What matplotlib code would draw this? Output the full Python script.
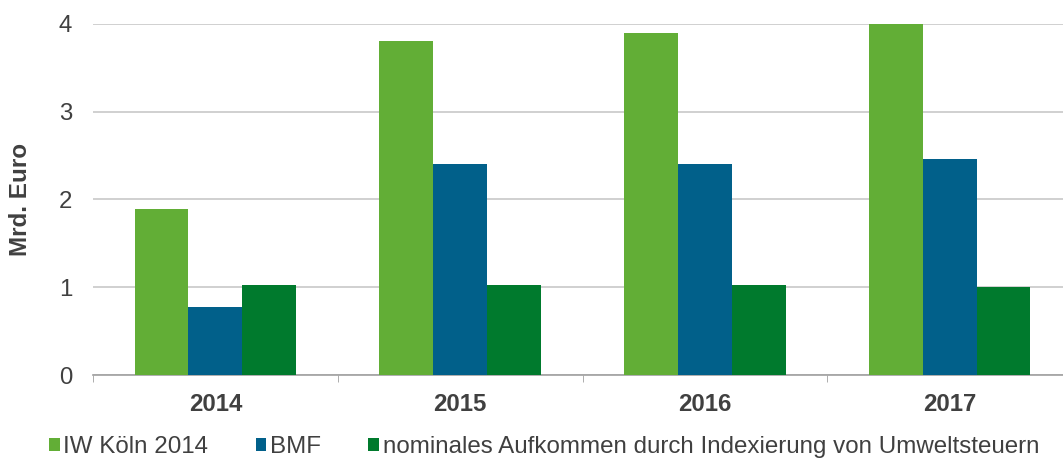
import matplotlib
matplotlib.use("Agg")
import matplotlib.pyplot as plt
import numpy as np
from matplotlib.patches import Patch

plt.rcParams['font.family'] = ['Liberation Sans', 'DejaVu Sans']

years = ["2014", "2015", "2016", "2017"]
series_names = ["IW Köln 2014", "BMF", "nominales Aufkommen durch Indexierung von Umweltsteuern"]
iw_koeln = [1.89, 3.80, 3.90, 4.00]
bmf = [0.77, 2.40, 2.40, 2.46]
nominal = [1.03, 1.03, 1.03, 1.00]
colors = ["#62AE36", "#01608A", "#007A2D"]
yticks = [0, 1, 2, 3, 4]

fig = plt.figure(figsize=(10.63, 4.59), dpi=100)
ax = fig.add_axes([0.0875, 0.183, 0.921, 0.765])

x = np.arange(len(years))
w = 0.22
for i, (vals, c) in enumerate(zip([iw_koeln, bmf, nominal], colors)):
    ax.bar(x + (i - 1) * w, vals, width=w, color=c, zorder=3, linewidth=0)

ax.set_xlim(-0.5, 3.5)
ax.set_ylim(0, 4)
ax.set_yticks(yticks)
ax.set_yticklabels([str(t) for t in yticks], fontsize=17.3, color="#404040")
ax.yaxis.grid(True, color="#c8c8c8", linewidth=1.2, zorder=0)
ax.set_xticks(x)
ax.set_xticklabels(years, fontsize=17.3, fontweight="bold", color="#404040")
ax.set_xticks(np.arange(-0.5, 3.6, 1.0), minor=True)
ax.tick_params(axis='x', which='major', length=0, pad=13)
ax.tick_params(axis='x', which='minor', length=5, color="#a0a0a0", direction='out')
ax.tick_params(axis='y', length=0, pad=15)
for s in ["top", "right", "left"]:
    ax.spines[s].set_visible(False)
ax.spines["bottom"].set_color("#a0a0a0")
ax.spines["bottom"].set_linewidth(1.2)
ax.set_ylabel("Mrd. Euro", fontsize=17.5, fontweight="bold", color="#404040", labelpad=19)

handles = [Patch(facecolor=c, edgecolor='none') for c in colors]
fig.legend(handles, series_names, loc="center left", bbox_to_anchor=(0.046, 0.026),
           ncol=3, frameon=False, fontsize=17.4, handlelength=0.45, handleheight=0.45,
           handletextpad=0.15, columnspacing=1.95, labelcolor="#404040",
           borderpad=0, borderaxespad=0)

fig.savefig("out.png", dpi=100)
